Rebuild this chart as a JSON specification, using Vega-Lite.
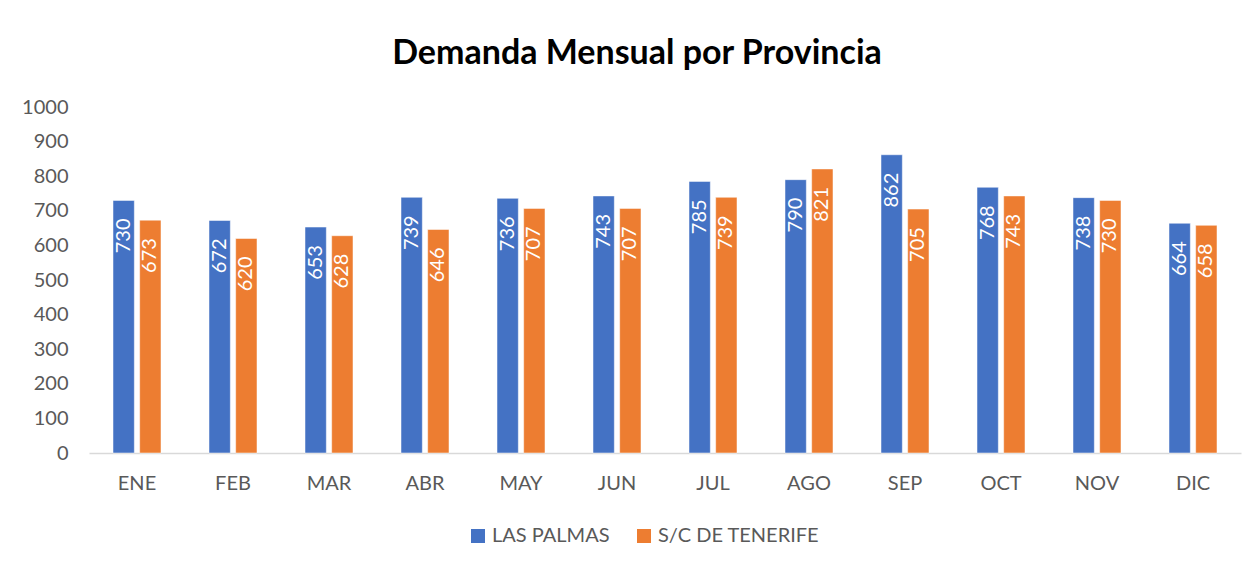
{
  "$schema": "https://vega.github.io/schema/vega-lite/v6.json",
  "width": 1152,
  "height": 346,
  "autosize": "none",
  "padding": {"left": 89, "top": 107, "right": 18, "bottom": 114},
  "background": "white",
  "title": {
    "text": "Demanda Mensual por Provincia",
    "font": "Lato",
    "fontSize": 34,
    "fontWeight": "bold",
    "color": "#000000",
    "anchor": "middle",
    "dx": -28,
    "offset": 26
  },
  "data": {
    "values": [
      {"mes": "ENE", "provincia": "LAS PALMAS", "demanda": 730},
      {"mes": "ENE", "provincia": "S/C DE TENERIFE", "demanda": 673},
      {"mes": "FEB", "provincia": "LAS PALMAS", "demanda": 672},
      {"mes": "FEB", "provincia": "S/C DE TENERIFE", "demanda": 620},
      {"mes": "MAR", "provincia": "LAS PALMAS", "demanda": 653},
      {"mes": "MAR", "provincia": "S/C DE TENERIFE", "demanda": 628},
      {"mes": "ABR", "provincia": "LAS PALMAS", "demanda": 739},
      {"mes": "ABR", "provincia": "S/C DE TENERIFE", "demanda": 646},
      {"mes": "MAY", "provincia": "LAS PALMAS", "demanda": 736},
      {"mes": "MAY", "provincia": "S/C DE TENERIFE", "demanda": 707},
      {"mes": "JUN", "provincia": "LAS PALMAS", "demanda": 743},
      {"mes": "JUN", "provincia": "S/C DE TENERIFE", "demanda": 707},
      {"mes": "JUL", "provincia": "LAS PALMAS", "demanda": 785},
      {"mes": "JUL", "provincia": "S/C DE TENERIFE", "demanda": 739},
      {"mes": "AGO", "provincia": "LAS PALMAS", "demanda": 790},
      {"mes": "AGO", "provincia": "S/C DE TENERIFE", "demanda": 821},
      {"mes": "SEP", "provincia": "LAS PALMAS", "demanda": 862},
      {"mes": "SEP", "provincia": "S/C DE TENERIFE", "demanda": 705},
      {"mes": "OCT", "provincia": "LAS PALMAS", "demanda": 768},
      {"mes": "OCT", "provincia": "S/C DE TENERIFE", "demanda": 743},
      {"mes": "NOV", "provincia": "LAS PALMAS", "demanda": 738},
      {"mes": "NOV", "provincia": "S/C DE TENERIFE", "demanda": 730},
      {"mes": "DIC", "provincia": "LAS PALMAS", "demanda": 664},
      {"mes": "DIC", "provincia": "S/C DE TENERIFE", "demanda": 658}
    ]
  },
  "encoding": {
    "x": {
      "field": "mes",
      "type": "nominal",
      "sort": null,
      "scale": {"paddingInner": 0.5, "paddingOuter": 0.25},
      "axis": {
        "title": null,
        "labelAngle": 0,
        "labelFont": "Lato",
        "labelFontSize": 20,
        "labelColor": "#595959",
        "labelPadding": 20,
        "ticks": false,
        "tickSize": 0,
        "domainColor": "#D9D9D9",
        "domainWidth": 1.5,
        "grid": false
      }
    },
    "xOffset": {
      "field": "provincia",
      "type": "nominal",
      "scale": {"paddingInner": 0.2, "paddingOuter": 0}
    },
    "y": {
      "field": "demanda",
      "type": "quantitative",
      "scale": {"domain": [0, 1000]},
      "axis": {
        "title": null,
        "format": "d",
        "values": [0, 100, 200, 300, 400, 500, 600, 700, 800, 900, 1000],
        "labelFont": "Lato",
        "labelFontSize": 20,
        "labelColor": "#595959",
        "labelPadding": 21,
        "ticks": false,
        "tickSize": 0,
        "domain": false,
        "grid": false
      }
    }
  },
  "layer": [
    {
      "mark": {"type": "bar", "stroke": "white", "strokeWidth": 0.5},
      "encoding": {
        "color": {
          "field": "provincia",
          "type": "nominal",
          "scale": {"domain": ["LAS PALMAS", "S/C DE TENERIFE"], "range": ["#4472C4", "#ED7D31"]},
          "legend": {
            "title": null,
            "orient": "none",
            "direction": "horizontal",
            "legendX": 379,
            "legendY": 419,
            "symbolType": "square",
            "symbolSize": 196,
            "symbolStrokeWidth": 0,
            "labelFont": "Lato",
            "labelFontSize": 20,
            "labelColor": "#595959",
            "labelLimit": 400,
            "columnPadding": 24,
            "labelOffset": 4
          }
        }
      }
    },
    {
      "mark": {
        "type": "text",
        "angle": 270,
        "align": "right",
        "baseline": "middle",
        "dx": -18,
        "font": "Lato",
        "fontSize": 20,
        "color": "white"
      },
      "encoding": {
        "text": {"field": "demanda", "type": "quantitative"}
      }
    }
  ],
  "config": {
    "view": {"stroke": null}
  }
}
